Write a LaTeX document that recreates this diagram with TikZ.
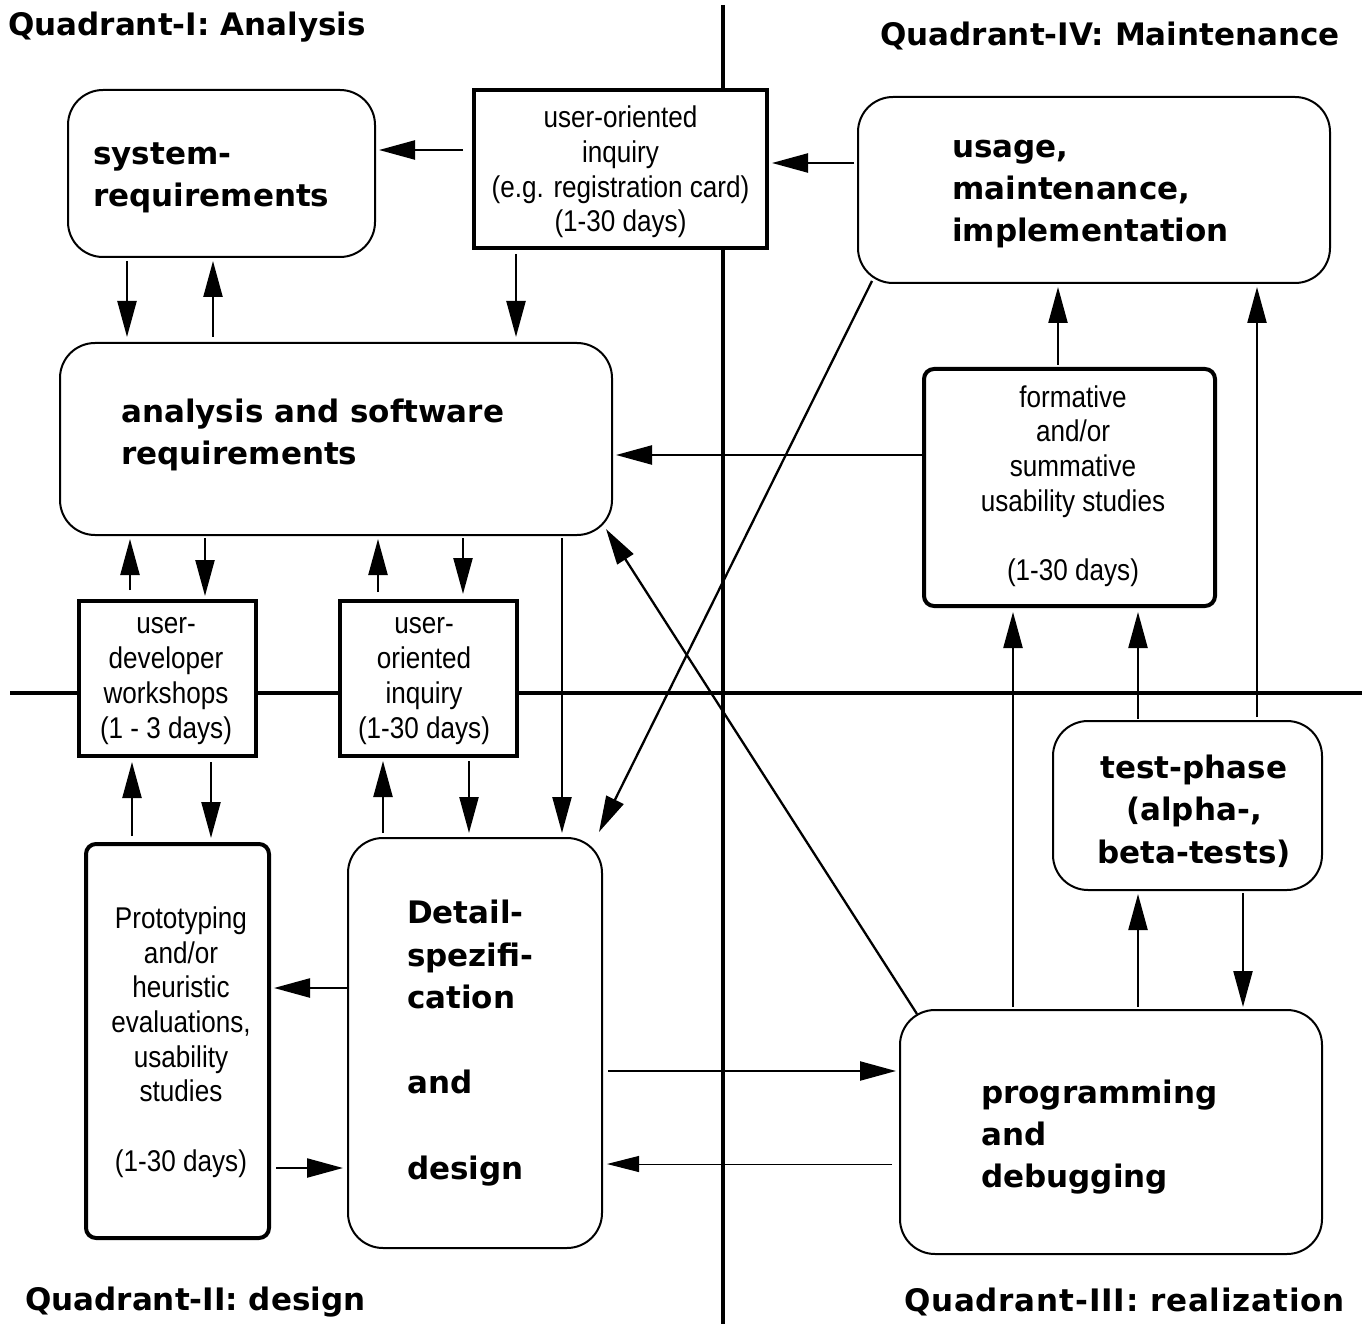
\documentclass[tikz,border=0pt]{standalone}
\usepackage{fontspec}
\setmainfont{Liberation Sans}
\newfontfamily\nfont{Liberation Sans}[FakeStretch=0.87]
\newfontfamily\qfont{DejaVu Sans}
\newfontfamily\qwfont{DejaVu Sans}[LetterSpace=2.7]
\usetikzlibrary{arrows.meta,calc}
\tikzset{
 rbox/.style={draw, line width=2pt, rounded corners=35pt, fill=white, inner sep=0pt},
 tbox/.style={draw, line width=4pt, fill=white, inner sep=0pt},
 tboxr/.style={tbox, rounded corners=10pt},
 btxt/.style={font=\qfont\bfseries\fontsize{31}{42.3}\selectfont, align=left, inner sep=0pt, anchor=west},
 ctxt/.style={font=\qfont\bfseries\fontsize{31}{42.3}\selectfont, align=center, inner sep=0pt},
 rtxt/.style={font=\nfont\fontsize{30}{34.7}\selectfont, align=center, inner sep=0pt},
 qtitle/.style={font=\qfont\bfseries\fontsize{31}{36}\selectfont, inner sep=0pt},
 arr/.style={-{Triangle[length=36pt,width=19pt]}, line width=2.3pt},
 thinarr/.style={-{Triangle[length=32pt,width=16pt]}, line width=1pt},
 axisline/.style={line width=4pt}
}
\begin{document}
\begin{tikzpicture}[x=1pt,y=-1pt]
\fill[white] (0,0) rectangle (1366,1324);
\useasboundingbox (0,0) rectangle (1366,1324);
% axes
\draw[axisline] (723,5) -- (723,1324);
\draw[axisline] (10,693) -- (1362,693);
% titles
\node[qtitle, anchor=west] (q1) at (8,27) {Quadrant-I: Analysis};
\node[qtitle, anchor=east] (q4) at (1340,36) {Quadrant-IV: Maintenance};
\node[qtitle, anchor=west] (q2) at (25,1302) {Quadrant-II: design};
\node[qtitle, font=\qwfont\bfseries\fontsize{31}{36}\selectfont, anchor=east] (q3) at (1345,1302) {Quadrant-III: realization};
% boxes
\node[rbox, minimum width=307pt, minimum height=167pt] (sysreq) at (221.5,173.5) {};
\node[btxt] (sysreqt) at (93,178) {system-\\requirements};
\node[tbox, minimum width=293pt, minimum height=158pt] (inq1) at (620.5,169) {};
\node[rtxt] (inq1t) at (620.5,172) {user-oriented\\inquiry\\(e.g. registration card)\\(1-30 days)};
\node[rbox, minimum width=472pt, minimum height=186pt] (usage) at (1094,190) {};
\node[btxt] (usaget) at (952,194) {usage,\\maintenance,\\implementation};
\node[rbox, minimum width=552pt, minimum height=192pt] (ana) at (336,439) {};
\node[btxt] (anat) at (121,435) {analysis and software\\requirements};
\node[tboxr, minimum width=291pt, minimum height=237pt] (form) at (1069.5,487.5) {};
\node[rtxt] (formt) at (1073,486) {formative\\and/or\\summative\\usability studies\\[34.7pt](1-30 days)};
\node[tbox, minimum width=177pt, minimum height=155pt] (ws) at (167.5,678.5) {};
\node[rtxt] (wst) at (166,681) {user-\\developer\\workshops\\(1 - 3 days)};
\node[tbox, minimum width=177pt, minimum height=155pt] (inq2) at (428.5,678.5) {};
\node[rtxt] (inq2t) at (424,681) {user-\\oriented\\inquiry\\(1-30 days)};
\node[rbox, minimum width=269pt, minimum height=169pt] (test) at (1187.5,805.5) {};
\node[ctxt] (testt) at (1194,811) {test-phase\\(alpha-,\\beta-tests)};
\node[tboxr, minimum width=183pt, minimum height=394pt] (proto) at (177.5,1041) {};
\node[rtxt] (protot) at (181,1042) {Prototyping\\and/or\\heuristic\\evaluations,\\usability\\studies\\[34.7pt](1-30 days)};
\node[rbox, minimum width=254pt, minimum height=410pt] (detail) at (475,1043) {};
\node[btxt] (detailt) at (407,1043) {Detail-\\spezifi-\\cation\\[43pt]and\\[43pt]design};
\node[rbox, minimum width=422pt, minimum height=244pt] (prog) at (1111,1132) {};
\node[btxt] (progt) at (981,1137) {programming\\and\\debugging};
% arrows
\draw[arr, shorten <=9pt, shorten >=3pt] (inq1.west |- 0,150) -- (sysreq.east |- 0,150);
\draw[arr, shorten <=3pt, shorten >=3pt] (usage.west |- 0,163) -- (inq1.east |- 0,163);
\draw[arr, shorten <=3pt, shorten >=5pt] (sysreq.south -| 127,0) -- (ana.north -| 127,0);
\draw[arr, shorten <=5pt, shorten >=3pt] (ana.north -| 213,0) -- (sysreq.south -| 213,0);
\draw[arr, shorten <=4pt, shorten >=5pt] (inq1.south -| 516,0) -- (ana.north -| 516,0);
\draw[arr, shorten <=0pt, shorten >=3pt] (form.west |- 0,455) -- (ana.east |- 0,455);
\draw[arr, shorten <=2pt, shorten >=3pt] (form.north -| 1058,0) -- (usage.south -| 1058,0);
\draw[arr, shorten <=3pt, shorten >=3pt] (test.north -| 1257,0) -- (usage.south -| 1257,0);
\draw[arr] ($(usage.south west)+(15,-3)$) -- ($(detail.north east)+(-4,-5)$);
\draw[arr] ($(prog.north west)+(18,5)$) -- ($(ana.south east)+(-7,-7)$);
\draw[arr, shorten <=2pt, shorten >=3pt] (ana.south -| 205,0) -- (ws.north -| 205,0);
\draw[arr, shorten <=9pt, shorten >=3pt] (ws.north -| 130,0) -- (ana.south -| 130,0);
\draw[arr, shorten <=7pt, shorten >=3pt] (inq2.north -| 378,0) -- (ana.south -| 378,0);
\draw[arr, shorten <=2pt, shorten >=5pt] (ana.south -| 463,0) -- (inq2.north -| 463,0);
\draw[arr, shorten <=2pt, shorten >=4pt] (ana.south -| 562,0) -- (detail.north -| 562,0);
\draw[arr, shorten <=6pt, shorten >=4pt] (proto.north -| 132,0) -- (ws.south -| 132,0);
\draw[arr, shorten <=4pt, shorten >=4pt] (ws.south -| 211,0) -- (proto.north -| 211,0);
\draw[arr, shorten <=4pt, shorten >=3pt] (detail.north -| 383,0) -- (inq2.south -| 383,0);
\draw[arr, shorten <=3pt, shorten >=4pt] (inq2.south -| 469,0) -- (detail.north -| 469,0);
\draw[arr, shorten <=0pt, shorten >=3pt] (detail.west |- 0,988) -- (proto.east |- 0,988);
\draw[arr, shorten <=5pt, shorten >=4pt] (proto.east |- 0,1168) -- (detail.west |- 0,1168);
\draw[arr, shorten <=5pt, shorten >=3pt] (detail.east |- 0,1071) -- (prog.west |- 0,1071);
\draw[thinarr, shorten <=7pt, shorten >=4pt] (prog.west |- 0,1164) -- (detail.east |- 0,1164);
\draw[arr, shorten <=2pt, shorten >=4pt] (prog.north -| 1013,0) -- (form.south -| 1013,0);
\draw[arr, shorten <=2pt, shorten >=3pt] (prog.north -| 1138,0) -- (test.south -| 1138,0);
\draw[arr, shorten <=1pt, shorten >=4pt] (test.north -| 1138,0) -- (form.south -| 1138,0);
\draw[arr, shorten <=2pt, shorten >=2pt] (test.south -| 1243,0) -- (prog.north -| 1243,0);
\end{tikzpicture}
\end{document}
